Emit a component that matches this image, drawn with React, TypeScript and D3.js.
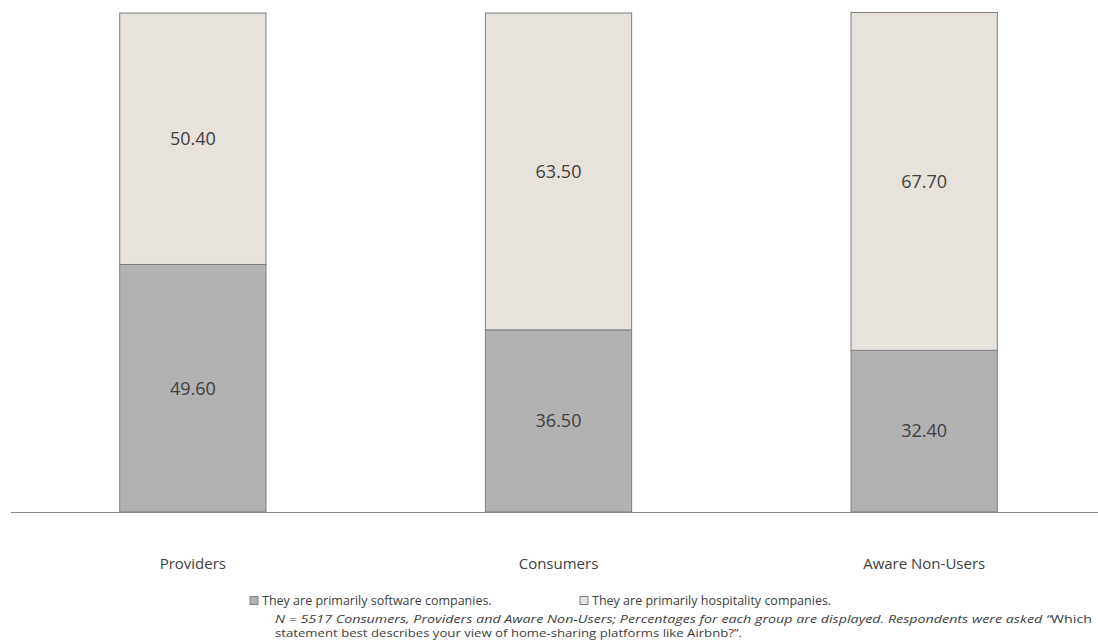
import React from "react";
import * as d3 from "d3";

const categories = ["Providers", "Consumers", "Aware Non-Users"];
const software = [49.6, 36.5, 32.4];
const hospitality = [50.4, 63.5, 67.7];
const seriesNames = [
  "They are primarily software companies.",
  "They are primarily hospitality companies.",
];
const colors = ["#B2B2B2", "#E7E2DC"];

const W = 1098;
const H = 642;

export default function App() {
  const x = d3
    .scaleBand<string>()
    .domain(categories)
    .range([10, 1107])
    .paddingInner(0.6)
    .paddingOuter(0.3);
  const y = d3.scaleLinear().domain([0, 100]).range([512, 13]);
  const rows = categories.map((c, i) => ({ c, software: software[i], hospitality: hospitality[i] }));
  const stacked = d3.stack<any>().keys(["software", "hospitality"])(rows);
  const font = "'Open Sans', 'Noto Sans', sans-serif";
  return (
    <svg
      width={W}
      height={H}
      style={{ position: "absolute", left: 0, top: 0 }}
      fontFamily={font}
    >
      <rect width={W} height={H} fill="#fff" />
      {stacked.map((s, si) =>
        s.map((d, i) => (
          <g key={si + "-" + i}>
            <rect
              x={x(categories[i])!}
              y={y(d[1])}
              width={x.bandwidth()}
              height={y(d[0]) - y(d[1])}
              fill={colors[si]}
              stroke="#7F7F7F"
              strokeWidth={1}
            />
            <text
              x={x(categories[i])! + x.bandwidth() / 2}
              y={(y(d[0]) + y(d[1])) / 2}
              dy="0.35em"
              textAnchor="middle"
              fontSize={18}
              fill="#404040"
            >
              {(d[1] - d[0]).toFixed(2)}
            </text>
          </g>
        ))
      )}
      <line x1={11} x2={W} y1={512.5} y2={512.5} stroke="#868686" strokeWidth={1} />
      {categories.map((c) => (
        <text
          key={c}
          x={x(c)! + x.bandwidth() / 2}
          y={564}
          dy="0.35em"
          textAnchor="middle"
          fontSize={15}
          fill="#404040"
        >
          {c}
        </text>
      ))}
      {seriesNames.map((n, i) => (
        <g key={n} transform={`translate(${i === 0 ? 250 : 580},601)`}>
          <rect x={0} y={-4.5} width={8} height={8} fill={colors[i]} stroke="#808080" strokeWidth={1} />
          <text x={12} y={0} dy="0.35em" fontSize={12.5} fill="#404040">
            {n}
          </text>
        </g>
      ))}
      <text x={275} y={619} dy="0.35em" fontSize={11.5} fill="#404040" textLength={817} lengthAdjust="spacingAndGlyphs">
        <tspan fontStyle="italic">
          N = 5517 Consumers, Providers and Aware Non-Users; Percentages for each group are displayed. Respondents were asked “
        </tspan>
        <tspan>Which</tspan>
      </text>
      <text x={275} y={633} dy="0.35em" fontSize={11.5} fill="#404040" textLength={467} lengthAdjust="spacingAndGlyphs">
        statement best describes your view of home-sharing platforms like Airbnb?”.
      </text>
    </svg>
  );
}
